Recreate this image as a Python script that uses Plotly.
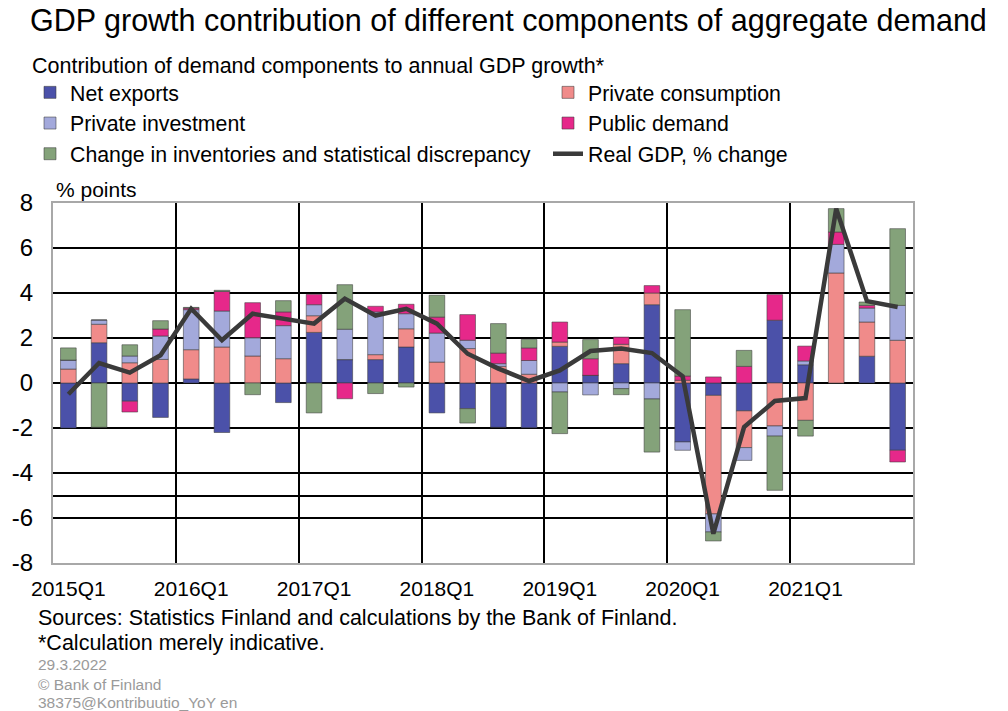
import plotly.graph_objects as go

quarters = ["2015Q1", "2015Q2", "2015Q3", "2015Q4",
            "2016Q1", "2016Q2", "2016Q3", "2016Q4",
            "2017Q1", "2017Q2", "2017Q3", "2017Q4",
            "2018Q1", "2018Q2", "2018Q3", "2018Q4",
            "2019Q1", "2019Q2", "2019Q3", "2019Q4",
            "2020Q1", "2020Q2", "2020Q3", "2020Q4",
            "2021Q1", "2021Q2", "2021Q3", "2021Q4"]

net_exports = [-2.0, 1.79, -0.81, -1.53,
               0.18, -2.2, 0.0, -0.87,
               2.25, 1.04, 1.04, 1.6,
               -1.33, -1.14, -1.97, -1.99,
               1.63, 0.34, 0.86, 3.48,
               -2.62, -0.55, -1.24, 2.79,
               0.81, 0.0, 1.19, -2.99]
private_consumption = [0.62, 0.82, 0.9, 1.05,
                       1.3, 1.6, 1.2, 1.08,
                       0.74, 0.0, 0.22, 0.81,
                       0.93, 1.53, 0.74, 0.39,
                       0.19, 0.0, 0.86, 0.52,
                       0.12, -5.27, -1.63, -1.91,
                       -1.66, 4.89, 1.52, 1.9]
private_investment = [0.4, 0.19, 0.3, 1.04,
                      1.78, 1.6, 0.81, 1.47,
                      0.49, 1.35, 1.9, 0.67,
                      1.29, 0.37, 0.12, 0.61,
                      -0.4, -0.53, -0.25, -0.71,
                      -0.37, -0.8, -0.57, -0.45,
                      0.17, 1.27, 0.62, 1.55]
public_demand = [0.0, 0.0, -0.48, 0.31,
                 0.07, 0.87, 1.56, 0.61,
                 0.46, -0.7, 0.25, 0.42,
                 0.71, 1.14, 0.47, 0.56,
                 0.89, 0.74, 0.32, 0.33,
                 0.19, 0.27, 0.74, 1.14,
                 0.66, 0.55, 0.12, -0.52]
inventories = [0.54, -1.97, 0.5, 0.37,
               0.03, 0.05, -0.52, 0.5,
               -1.33, 1.98, -0.47, -0.18,
               0.97, -0.64, 1.31, 0.38,
               -1.85, 0.85, -0.27, -2.36,
               2.95, -0.4, 0.71, -2.41,
               -0.7, 1.04, 0.15, 3.41]
real_gdp = [-0.5, 0.89, 0.46, 1.23,
            3.3, 1.9, 3.08, 2.86,
            2.64, 3.75, 3.0, 3.3,
            2.64, 1.3, 0.64, 0.09,
            0.56, 1.42, 1.53, 1.33,
            0.3, -6.7, -1.96, -0.8,
            -0.67, 7.75, 3.64, 3.38]

y_tick_vals = [-8, -6, -5, -4, -2, 0, 2, 4, 6, 8]
y_tick_text = ["-8", "-6", "", "-4", "-2", "0", "2", "4", "6", "8"]

FONT = "Liberation Sans, Arial, sans-serif"
W, H = 1008, 711
ML, MR, MT, MB = 53, 95, 203, 148
PW, PH = W - ML - MR, H - MT - MB


def px(x):
    return (x - ML) / PW


def py(y):
    return (H - MB - y) / PH


bar_series = [
    ("Net exports", net_exports, "#4B51A9", "legend"),
    ("Private consumption", private_consumption, "#F08B8A", "legend2"),
    ("Private investment", private_investment, "#A3A9DB", "legend"),
    ("Public demand", public_demand, "#E6288A", "legend2"),
    ("Change in inventories and statistical discrepancy", inventories, "#84A27A", "legend"),
]

fig = go.Figure()
for name, vals, color, leg in bar_series:
    fig.add_trace(go.Bar(
        x=quarters, y=vals, name=name, legend=leg,
        marker=dict(color=color, line=dict(color="rgba(60,60,60,0.55)", width=1)),
    ))

fig.add_trace(go.Scatter(
    x=quarters, y=real_gdp, name="Real GDP, % change", legend="legend2",
    mode="lines", line=dict(color="#3A3A3A", width=4.5),
))

legend_common = dict(
    orientation="v", xanchor="left", yanchor="top",
    font=dict(family=FONT, size=21.3, color="#000"),
    bgcolor="rgba(0,0,0,0)", borderwidth=0, tracegroupgap=0,
    itemclick=False, itemdoubleclick=False,
)

fig.update_layout(
    width=W, height=H,
    margin=dict(l=ML, r=MR, t=MT, b=MB, autoexpand=False),
    paper_bgcolor="white", plot_bgcolor="white",
    barmode="relative", bargap=0.49,
    showlegend=True,
    font=dict(family=FONT, color="#000"),
    title=dict(
        text="GDP growth contribution of different components of aggregate demand",
        font=dict(family=FONT, size=30.5, color="#000"),
        xref="container", yref="container",
        x=30 / W, xanchor="left", y=1 - 20 / H, yanchor="middle",
    ),
    legend=dict(x=px(30), y=py(72), **legend_common),
    legend2=dict(x=px(548), y=py(72), **legend_common),
    xaxis=dict(
        type="category", range=[-0.5, len(quarters) - 0.5],
        tickmode="linear", tick0=0, dtick=4, tickson="boundaries",
        tickangle=0, ticklabelstandoff=6,
        showgrid=True, gridcolor="#000", gridwidth=1.5,
        ticks="", tickfont=dict(family=FONT, size=21, color="#000"),
        showline=True, mirror=True, linecolor="#A8A8A8", linewidth=2,
        fixedrange=True,
    ),
    yaxis=dict(
        range=[-8, 8], tickmode="array", tickvals=y_tick_vals, ticktext=y_tick_text,
        showgrid=True, gridcolor="#000", gridwidth=1.5,
        zeroline=True, zerolinecolor="#000", zerolinewidth=1.5,
        ticks="", ticklabelstandoff=13,
        tickfont=dict(family=FONT, size=24, color="#000"),
        showline=True, mirror=True, linecolor="#A8A8A8", linewidth=2,
        fixedrange=True,
    ),
)

notes = [
    ("Contribution of demand components to annual GDP growth*", 30, 66, 21.5, "#000"),
    ("% points", 54, 190, 21, "#000"),
    ("Sources: Statistics Finland and calculations by the Bank of Finland.", 36, 618, 21.5, "#000"),
    ("*Calculation merely indicative.", 36, 643, 21.5, "#000"),
    ("29.3.2022", 36, 664, 15.5, "#9A9A9A"),
    ("© Bank of Finland", 36, 684, 15.5, "#9A9A9A"),
    ("38375@Kontribuutio_YoY en", 36, 702, 15.5, "#9A9A9A"),
]
for text, x, y, size, color in notes:
    fig.add_annotation(
        text=text, xref="paper", yref="paper", x=px(x), y=py(y),
        xanchor="left", yanchor="middle", showarrow=False,
        font=dict(family=FONT, size=size, color=color),
    )

fig.write_html("out.html", config={"displayModeBar": False},
               post_script="document.body.style.margin='0px';")
